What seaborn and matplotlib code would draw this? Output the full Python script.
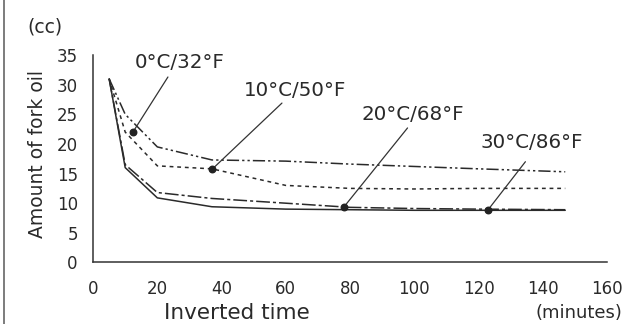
import numpy as np
import pandas as pd
import seaborn as sns
import matplotlib
matplotlib.use("Agg")
import matplotlib.pyplot as plt
from matplotlib.lines import Line2D

# ---- data ----
time_min = [5, 10, 20, 37, 60, 80, 100, 120, 147]
oil_0c = [31, 25, 19.5, 17.3, 17.1, 16.6, 16.2, 15.8, 15.3]
oil_10c = [31, 22, 16.3, 15.8, 13.0, 12.5, 12.4, 12.5, 12.5]
oil_20c = [31, 16.5, 11.8, 10.8, 10.0, 9.3, 9.1, 9.0, 8.9]
oil_30c = [31, 16.0, 10.9, 9.4, 9.0, 8.9, 8.8, 8.8, 8.8]
series_labels = ["0°C/32°F", "10°C/50°F", "20°C/68°F", "30°C/86°F"]

# callout points (on the curves) and label positions
callout_x = [12.4, 37, 78, 123]
callout_y = [22.0, 15.7, 9.3, 8.9]
label_x = [27, 63, 99.5, 136.5]
label_y = [33.8, 29.1, 24.9, 20.2]
leader_x = [23.3, 58.8, 97.9, 134.6]
leader_y = [31.3, 26.9, 22.7, 17.0]

x_ticks = [0, 20, 40, 60, 80, 100, 120, 140, 160]
y_ticks = [0, 5, 10, 15, 20, 25, 30, 35]

sns.set_theme(style="white")
plt.rcParams['font.family'] = ['DejaVu Sans']

rows = []
for lab, vals in zip(series_labels, [oil_0c, oil_10c, oil_20c, oil_30c]):
    for t, v in zip(time_min, vals):
        rows.append({"time": t, "oil": v, "temp": lab})
df = pd.DataFrame(rows)

fig = plt.figure(figsize=(6.29, 3.24), dpi=100)
ax = fig.add_axes([0.148, 0.19, 0.817, 0.640])

dashes = {
    "0°C/32°F": (8, 2, 1.5, 2, 1.5, 2),
    "10°C/50°F": (2.5, 2.5),
    "20°C/68°F": (9, 2, 2, 2),
    "30°C/86°F": "",
}
sns.lineplot(data=df, x="time", y="oil", style="temp", dashes=dashes,
             color="#2a2a2a", linewidth=1.1, legend=False, ax=ax,
             style_order=series_labels)

# callouts
ax.scatter(callout_x, callout_y, s=22, color="#222222", zorder=5, clip_on=False)
for i, lab in enumerate(series_labels):
    ax.plot([callout_x[i], leader_x[i]], [callout_y[i], leader_y[i]],
            color="#333333", lw=0.9, clip_on=False)
    ax.text(label_x[i], label_y[i], lab, ha="center", va="center",
            fontsize=14.3, color="#2a2a2a", clip_on=False)

ax.set_xlim(0, 160)
ax.set_ylim(0, 35)
ax.set_xticks(x_ticks)
ax.set_yticks(y_ticks)
ax.tick_params(direction="in", length=5, width=1, colors="#333333",
               labelsize=12, labelcolor="#2a2a2a")
ax.tick_params(axis="y", pad=11)
ax.tick_params(axis="x", pad=13)
for s in ["top", "right"]:
    ax.spines[s].set_visible(False)
for s in ["left", "bottom"]:
    ax.spines[s].set_color("#333333")
    ax.spines[s].set_linewidth(1.1)
ax.set_xlabel("")
ax.set_ylabel("")

fig.text(0.059, 0.525, "Amount of fork oil", rotation=90, ha="center",
         va="center", fontsize=13.5, color="#2a2a2a")
fig.text(0.043, 0.917, "(cc)", ha="left", va="center", fontsize=13.5,
         color="#2a2a2a")
fig.text(0.377, 0.016, "Inverted time", ha="center", va="baseline",
         fontsize=15.5, color="#2a2a2a")
fig.text(0.99, 0.02, "(minutes)", ha="right", va="baseline",
         fontsize=13, color="#2a2a2a")

# scan border at the left edge
fig.add_artist(Line2D([0.006, 0.006], [0, 1], transform=fig.transFigure,
                      color="#666666", lw=1.2))

fig.savefig("out.png", dpi=100)
